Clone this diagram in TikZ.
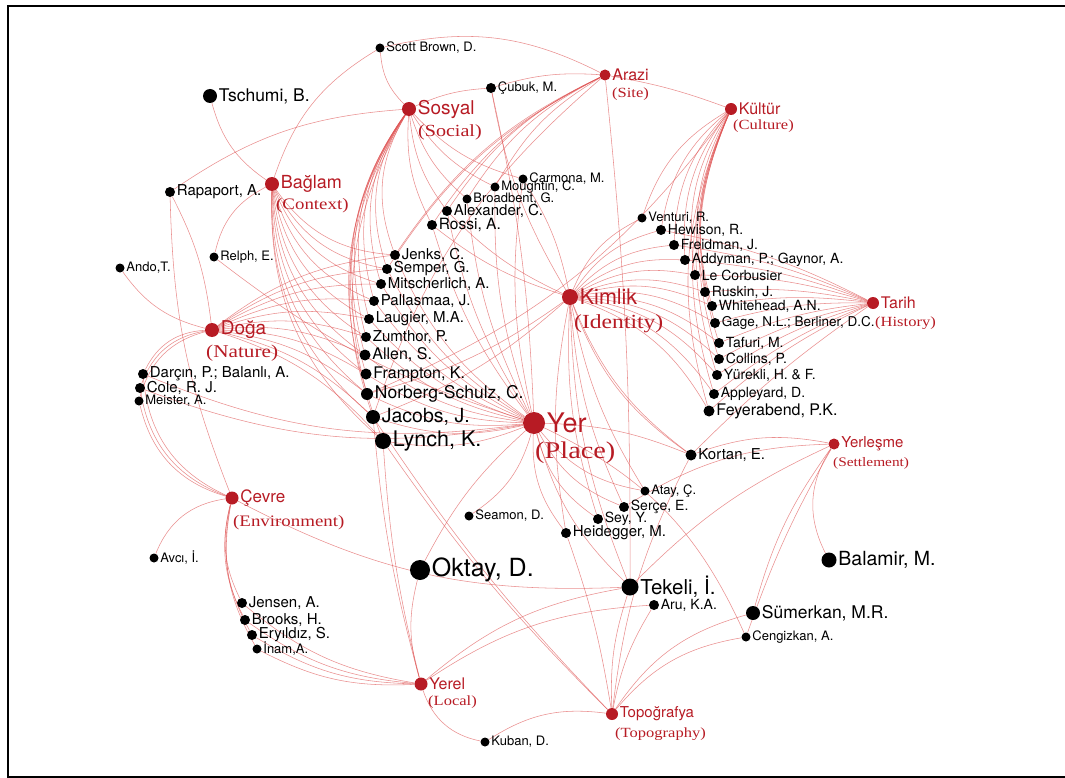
\documentclass[tikz,border=0pt]{standalone}
\usepackage{fontspec}
\setmainfont{TeX Gyre Heros}
\newfontfamily\trfont[FakeStretch=1.18]{Liberation Serif}
\usetikzlibrary{backgrounds}

\definecolor{placered}{RGB}{183,27,36}
\definecolor{linkred}{RGB}{222,82,82}

\tikzset{
  link/.style={draw=linkred, line width=0.55pt, opacity=0.65},
  concept/.style={circle, fill=placered, inner sep=0pt},
  author/.style={circle, fill=black, inner sep=0pt},
  fs/.style={font=\fontsize{#1}{#1}\selectfont},
  aname/.style={inner sep=1.5pt},
  cword/.style={text=placered, inner sep=1.5pt},
  tr/.style={text=placered, anchor=base west, inner sep=0pt, font=\trfont\fontsize{#1}{#1}\selectfont},
}

\begin{document}
\begin{tikzpicture}[x=1pt, y=-1pt]

    \useasboundingbox (0,0) rectangle (1065,778);
    \draw[line width=1.8pt] (1065,6) -- (8,6) -- (8,777) -- (1065,777);

    % concepts
    \node[concept, minimum size=22pt, label={[cword, fs=27]right:Yer}] (yer) at (534,423) {};
    \node[concept, minimum size=16pt, label={[cword, fs=21.5]right:Kimlik}] (kimlik) at (570,297) {};
    \node[concept, minimum size=14pt, label={[cword, fs=19]right:Sosyal}] (sosyal) at (409,109) {};
    \node[concept, minimum size=14pt, label={[cword, fs=18]right:Bağlam}] (baglam) at (272,184) {};
    \node[concept, minimum size=14pt, label={[cword, fs=19]right:Doğa}] (doga) at (212,330) {};
    \node[concept, minimum size=13pt, label={[cword, fs=17]right:Çevre}] (cevre) at (232,498) {};
    \node[concept, minimum size=13pt, label={[cword, fs=16]right:Yerel}] (yerel) at (421,684) {};
    \node[concept, minimum size=12pt, label={[cword, fs=15]right:Topoğrafya}] (topografya) at (612,714) {};
    \node[concept, minimum size=11pt, label={[cword, fs=15]right:Yerleşme}] (yerlesme) at (834,444) {};
    \node[concept, minimum size=12pt, label={[cword, fs=16]right:Tarih}] (tarih) at (873,303) {};
    \node[concept, minimum size=12pt, label={[cword, fs=16]right:Kültür}] (kultur) at (731,109) {};
    \node[concept, minimum size=11pt, label={[cword, fs=16]right:Arazi}] (arazi) at (605,75) {};

    \node[tr=24] (yer-en) at ([xshift=1pt, yshift=-35pt]yer.center) {(Place)};
    \node[tr=20] (kimlik-en) at ([xshift=4pt, yshift=-31pt]kimlik.center) {(Identity)};
    \node[tr=17] (sosyal-en) at ([xshift=9pt, yshift=-28pt]sosyal.center) {(Social)};
    \node[tr=16] (baglam-en) at ([xshift=4pt, yshift=-25pt]baglam.center) {(Context)};
    \node[tr=18] (doga-en) at ([xshift=-6pt, yshift=-27pt]doga.center) {(Nature)};
    \node[tr=16] (cevre-en) at ([xshift=1pt, yshift=-28pt]cevre.center) {(Environment)};
    \node[tr=14] (yerel-en) at ([xshift=7pt, yshift=-21pt]yerel.center) {(Local)};
    \node[tr=14] (topografya-en) at ([xshift=3pt, yshift=-23pt]topografya.center) {(Topography)};
    \node[tr=13] (yerlesme-en) at ([xshift=-1pt, yshift=-22pt]yerlesme.center) {(Settlement)};
    \node[tr=14] (tarih-en) at ([xshift=2pt, yshift=-23pt]tarih.center) {(History)};
    \node[tr=14] (kultur-en) at ([xshift=2pt, yshift=-21pt]kultur.center) {(Culture)};
    \node[tr=14] (arazi-en) at ([xshift=7pt, yshift=-23pt]arazi.center) {(Site)};

    % authors
    \node[author, minimum size=9pt, label={[aname, fs=13]right:Scott Brown, D.}] (scottbrown) at (380,48) {};
    \node[author, minimum size=14pt, label={[aname, fs=17.5]right:Tschumi, B.}] (tschumi) at (210,96) {};
    \node[author, minimum size=10pt, label={[aname, fs=13]right:Çubuk, M.}] (cubuk) at (491,88) {};
    \node[author, minimum size=10pt, label={[aname, fs=15]right:Rapaport, A.}] (rapaport) at (170,192) {};
    \node[author, minimum size=9pt, label={[aname, fs=13]right:Relph, E.}] (relph) at (214,257) {};
    \node[author, minimum size=9pt, label={[aname, fs=13]right:Ando,T.}] (ando) at (120,268) {};
    \node[author, minimum size=9pt, label={[aname, fs=13]right:Carmona, M.}] (carmona) at (523,179) {};
    \node[author, minimum size=9pt, label={[aname, fs=13]right:Moughtin, C.}] (moughtin) at (495,187) {};
    \node[author, minimum size=9pt, label={[aname, fs=13]right:Broadbent, G.}] (broadbent) at (467,199) {};
    \node[author, minimum size=10pt, label={[aname, fs=15]right:Alexander, C.}] (alexander) at (447,211) {};
    \node[author, minimum size=10pt, label={[aname, fs=15.5]right:Rossi, A.}] (rossi) at (432,225) {};
    \node[author, minimum size=10pt, label={[aname, fs=15]right:Jenks, C.}] (jenks) at (395,255) {};
    \node[author, minimum size=10pt, label={[aname, fs=15]right:Semper, G.}] (semper) at (387,269) {};
    \node[author, minimum size=10pt, label={[aname, fs=15]right:Mitscherlich, A.}] (mitscherlich) at (381,284) {};
    \node[author, minimum size=10pt, label={[aname, fs=15]right:Pallasmaa, J.}] (pallasmaa) at (374,301) {};
    \node[author, minimum size=10pt, label={[aname, fs=15]right:Laugier, M.A.}] (laugier) at (369,319) {};
    \node[author, minimum size=10pt, label={[aname, fs=15]right:Zumthor, P.}] (zumthor) at (366,337) {};
    \node[author, minimum size=11pt, label={[aname, fs=16]right:Allen, S.}] (allen) at (365,355) {};
    \node[author, minimum size=11pt, label={[aname, fs=16]right:Frampton, K.}] (frampton) at (366,374) {};
    \node[author, minimum size=12pt, label={[aname, fs=17.5]right:Norberg-Schulz, C.}] (norberg) at (367,394) {};
    \node[author, minimum size=14pt, label={[aname, fs=19.5]right:Jacobs, J.}] (jacobs) at (373,417) {};
    \node[author, minimum size=16pt, label={[aname, fs=21.5]right:Lynch, K.}] (lynch) at (383,441) {};
    \node[author, minimum size=10pt, label={[aname, fs=15]right:Darçın, P.; Balanlı, A.}] (darcin) at (143,374) {};
    \node[author, minimum size=10pt, label={[aname, fs=15]right:Cole, R. J.}] (cole) at (140,388) {};
    \node[author, minimum size=9pt, label={[aname, fs=13]right:Meister, A.}] (meister) at (139,401) {};
    \node[author, minimum size=9pt, label={[aname, fs=13]right:Avcı, İ.}] (avci) at (154,558) {};
    \node[author, minimum size=9pt, label={[aname, fs=13]right:Seamon, D.}] (seamon) at (469,516) {};
    \node[author, minimum size=20pt, label={[aname, fs=25]right:Oktay, D.}] (oktay) at (420,570) {};
    \node[author, minimum size=9pt, label={[aname, fs=13]right:Venturi, R.}] (venturi) at (642,218) {};
    \node[author, minimum size=10pt, label={[aname, fs=14]right:Hewison, R.}] (hewison) at (661,230) {};
    \node[author, minimum size=10pt, label={[aname, fs=14]right:Freidman, J.}] (freidman) at (674,245) {};
    \node[author, minimum size=10pt, label={[aname, fs=14]right:Addyman, P.; Gaynor, A.}] (addyman) at (685,260) {};
    \node[author, minimum size=10pt, label={[aname, fs=14]right:Le Corbusier}] (lecorbusier) at (695,275) {};
    \node[author, minimum size=10pt, label={[aname, fs=14]right:Ruskin, J.}] (ruskin) at (705,292) {};
    \node[author, minimum size=10pt, label={[aname, fs=14]right:Whitehead, A.N.}] (whitehead) at (712,306) {};
    \node[author, minimum size=10pt, label={[aname, fs=13.5]right:Gage, N.L.; Berliner, D.C.}] (gage) at (715,323) {};
    \node[author, minimum size=10pt, label={[aname, fs=14]right:Tafuri, M.}] (tafuri) at (719,343) {};
    \node[author, minimum size=10pt, label={[aname, fs=14]right:Collins, P.}] (collins) at (719,359) {};
    \node[author, minimum size=10pt, label={[aname, fs=14]right:Yürekli, H. \& F.}] (yurekli) at (717,375) {};
    \node[author, minimum size=10pt, label={[aname, fs=14]right:Appleyard, D.}] (appleyard) at (714,394) {};
    \node[author, minimum size=11pt, label={[aname, fs=16]right:Feyerabend, P.K.}] (feyerabend) at (709,411) {};
    \node[author, minimum size=11pt, label={[aname, fs=15]right:Kortan, E.}] (kortan) at (691,455) {};
    \node[author, minimum size=9pt, label={[aname, fs=13]right:Atay, Ç.}] (atay) at (645,491) {};
    \node[author, minimum size=10pt, label={[aname, fs=14]right:Serçe, E.}] (serce) at (624,507) {};
    \node[author, minimum size=10pt, label={[aname, fs=14]right:Sey, Y.}] (sey) at (598,519) {};
    \node[author, minimum size=10pt, label={[aname, fs=15]right:Heidegger, M.}] (heidegger) at (566,533) {};
    \node[author, minimum size=15pt, label={[aname, fs=19.5]right:Balamir, M.}] (balamir) at (829,560) {};
    \node[author, minimum size=17pt, label={[aname, fs=20.5]right:Tekeli, İ.}] (tekeli) at (630,587) {};
    \node[author, minimum size=10pt, label={[aname, fs=14]right:Aru, K.A.}] (aru) at (654,605) {};
    \node[author, minimum size=14pt, label={[aname, fs=17.5]right:Sümerkan, M.R.}] (sumerkan) at (753,613) {};
    \node[author, minimum size=9pt, label={[aname, fs=13]right:Cengizkan, A.}] (cengizkan) at (746,637) {};
    \node[author, minimum size=10pt, label={[aname, fs=15]right:Jensen, A.}] (jensen) at (242,603) {};
    \node[author, minimum size=10pt, label={[aname, fs=15]right:Brooks, H.}] (brooks) at (245,620) {};
    \node[author, minimum size=10pt, label={[aname, fs=15]right:Eryıldız, S.}] (eryildiz) at (252,635) {};
    \node[author, minimum size=9pt, label={[aname, fs=13]right:İnam,A.}] (inam) at (257,649) {};
    \node[author, minimum size=9pt, label={[aname, fs=13]right:Kuban, D.}] (kuban) at (485,742) {};

    \begin{scope}[on background layer]
        % Sosyal
        \foreach \a in {jenks,semper,mitscherlich,pallasmaa,laugier,zumthor,allen,frampton,norberg,jacobs,lynch}
            \draw[link] (sosyal) to[bend right=25] (\a);
        \foreach \a in {carmona,moughtin,broadbent,alexander,rossi}
            \draw[link] (sosyal) to[bend right=15] (\a);
        \draw[link] (sosyal) to[bend left=20] (scottbrown);
        \draw[link] (sosyal) to[bend left=10] (cubuk);
        \draw[link] (sosyal) to[bend right=15] (rapaport);

        % Baglam
        \foreach \a in {jenks,semper,mitscherlich,pallasmaa,laugier,zumthor,allen,frampton,norberg,jacobs,lynch}
            \draw[link] (baglam) to[bend right=25] (\a);
        \draw[link] (baglam) to[bend left=20] (tschumi);
        \draw[link] (baglam) to[bend left=20] (scottbrown);
        \draw[link] (baglam) to[bend right=25] (relph);

        % Doga
        \foreach \a in {jenks,semper,mitscherlich,pallasmaa,laugier,zumthor,allen,frampton,norberg,jacobs,lynch}
            \draw[link] (doga) to[bend left=15] (\a);
        \foreach \a in {darcin,cole,meister}
            \draw[link] (doga) to[bend right=30] (\a);
        \draw[link] (doga) to[bend left=20] (ando);
        \draw[link] (doga) to[bend right=10] (rapaport);

        % Cevre
        \foreach \a in {darcin,cole,meister}
            \draw[link] (cevre) to[bend left=30] (\a);
        \foreach \a in {jensen,brooks,eryildiz,inam}
            \draw[link] (cevre) to[bend right=20] (\a);
        \draw[link] (cevre) to[bend right=30] (avci);
        \draw[link] (cevre) to[bend right=15] (tekeli);
        \draw[link] (cevre) to[bend left=10] (rapaport);

        % Yerel
        \foreach \a in {jensen,brooks,eryildiz,inam}
            \draw[link] (yerel) to[bend left=15] (\a);
        \foreach \a in {lynch,jacobs}
            \draw[link] (yerel) to[bend left=5] (\a);
        \foreach \a in {tekeli,aru}
            \draw[link] (yerel) to[bend left=15] (\a);
        \draw[link] (yerel) to[bend right=30] (kuban);
        \draw[link] (yerel) to[bend left=15] (oktay);

        % Topografya
        \foreach \a in {tekeli,aru}
            \draw[link] (topografya) to[bend left=10] (\a);
        \foreach \a in {sumerkan,cengizkan}
            \draw[link] (topografya) to[bend left=20] (\a);
        \foreach \a in {lynch,jacobs}
            \draw[link] (topografya) to[bend left=5] (\a);
        \draw[link] (topografya) to[bend right=20] (kuban);
        \draw[link] (topografya) to[bend left=10] (kortan);
        \draw[link] (topografya) to[bend right=5] (heidegger);

        % Yerlesme
        \draw[link] (yerlesme) to[bend right=30] (balamir);
        \draw[link] (yerlesme) to[bend right=15] (kortan);
        \draw[link] (yerlesme) to[bend right=10] (sumerkan);
        \draw[link] (yerlesme) to[bend right=10] (tekeli);
        \draw[link] (yerlesme) to[bend right=5] (cengizkan);
        \draw[link] (yerlesme) to[bend right=15] (serce);

        % Tarih
        \foreach \a in {hewison,freidman,addyman,lecorbusier,ruskin,whitehead,gage,tafuri,collins,yurekli,appleyard,feyerabend}
            \draw[link] (tarih) to[bend right=8] (\a);
        \draw[link] (tarih) to[bend right=5] (kortan);

        % Kultur
        \foreach \a in {venturi,hewison,freidman,addyman,lecorbusier,ruskin,whitehead,gage,tafuri,collins,yurekli,appleyard,feyerabend}
            \draw[link] (kultur) to[bend right=20] (\a);
        \draw[link] (kultur) to[bend right=5] (arazi);
        \draw[link] (kultur) to[bend left=15] (norberg);

        % Kimlik
        \foreach \a in {venturi,hewison,freidman,addyman,lecorbusier,ruskin,whitehead,gage,tafuri,collins,yurekli,appleyard,feyerabend}
            \draw[link] (kimlik) to[bend left=20] (\a);
        \foreach \a in {atay,serce,sey,heidegger,tekeli}
            \draw[link] (kimlik) to[bend right=10] (\a);
        \foreach \a in {alexander,rossi,norberg,jacobs,cubuk}
            \draw[link] (kimlik) to[bend left=10] (\a);
        \draw[link] (kimlik) to[bend right=15] (kortan);
        \draw[link] (kimlik) to[bend right=17] (kortan);
        \draw[link] (kimlik) to[bend right=10] (carmona);

        % Arazi
        \foreach \a in {alexander,rossi,broadbent,moughtin,jenks,semper,jacobs}
            \draw[link] (arazi) to[bend right=15] (\a);
        \draw[link] (arazi) to[bend right=10] (cubuk);
        \draw[link] (arazi) to[bend right=20] (scottbrown);
        \draw[link] (arazi) to[bend left=3] (tekeli);

        % Yer
        \foreach \a in {jenks,semper,mitscherlich,pallasmaa,laugier,zumthor,allen,frampton,norberg,jacobs,lynch}
            \draw[link] (yer) to[bend left=15] (\a);
        \foreach \a in {rossi,alexander,broadbent,moughtin,carmona}
            \draw[link] (yer) to[bend left=10] (\a);
        \foreach \a in {heidegger,sey,serce,atay}
            \draw[link] (yer) to[bend right=20] (\a);
        \foreach \a in {darcin,cole}
            \draw[link] (yer) to[bend left=15] (\a);
        \draw[link] (yer) to[bend left=20] (seamon);
        \draw[link] (yer) to[bend right=10] (oktay);
        \draw[link] (yer) to[bend right=15] (tekeli);
        \draw[link] (yer) to[bend left=10] (kortan);
        \draw[link] (yer) to[bend left=10] (relph);
        \draw[link] (yer) to[bend left=20] (cengizkan);
        \draw[link] (yer) to[bend right=5] (cubuk);
    \end{scope}

\end{tikzpicture}
\end{document}
